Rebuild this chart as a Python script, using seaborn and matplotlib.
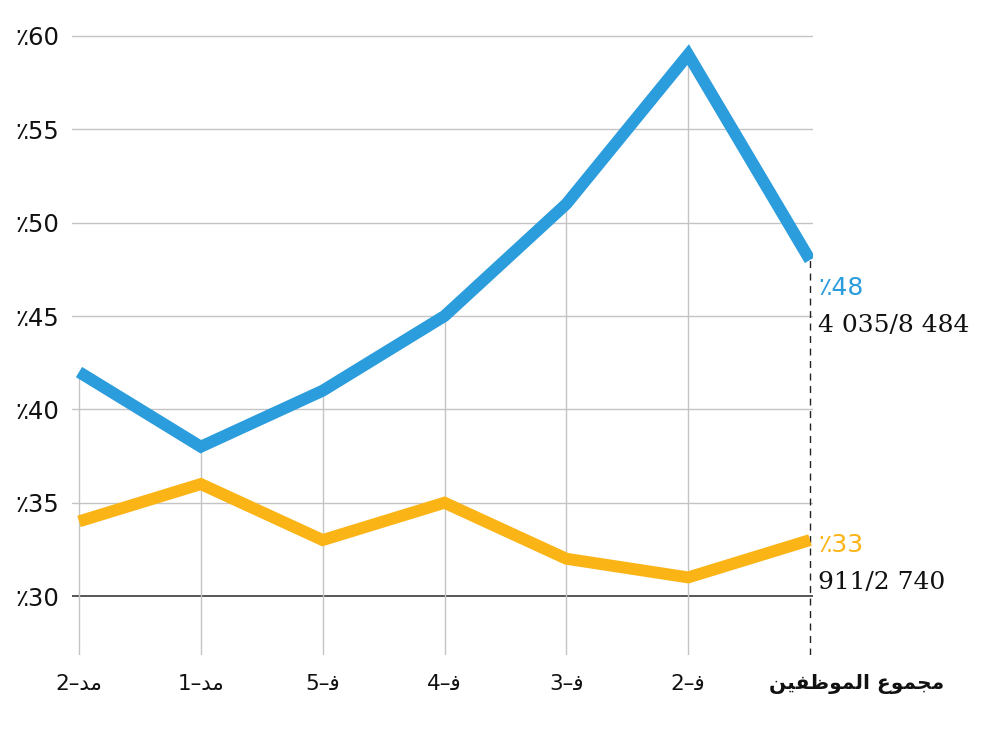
import matplotlib
matplotlib.use("Agg")
import matplotlib.pyplot as plt
import seaborn as sns
import pandas as pd

# ---- data ----
categories = ["2–ﺪﻣ", "1–ﺪﻣ", "5–ﻓ", "4–ﻓ", "3–ﻓ", "2–ﻓ", "ﻦﻴﻔﻇﻮﻤﻟﺍ ﻉﻮﻤﺠﻣ"]
blue_values = [0.42, 0.38, 0.41, 0.45, 0.51, 0.59, 0.48]
orange_values = [0.34, 0.36, 0.33, 0.35, 0.32, 0.31, 0.33]
y_ticks = [0.30, 0.35, 0.40, 0.45, 0.50, 0.55, 0.60]
y_tick_labels = ["٪30", "٪35", "٪40", "٪45", "٪50", "٪55", "٪60"]
blue_pct = "٪48"
blue_counts = "4 035/8 484"
orange_pct = "٪33"
orange_counts = "911/2 740"

BLUE = "#2b9cdc"
ORANGE = "#fbb416"

sns.set_theme(style="white")
plt.rcParams["font.family"] = ["DejaVu Sans"]

df = pd.DataFrame({
    "x": list(range(len(categories))) * 2,
    "value": blue_values + orange_values,
    "series": ["blue"] * len(categories) + ["orange"] * len(categories),
})

fig = plt.figure(figsize=(9.83, 7.29), dpi=100)
ax = fig.add_axes([72 / 983, (729 - 655) / 729, 741 / 983, 620 / 729])

ylow = 0.30 - 59 * 0.05 / 93.5
ax.set_ylim(ylow, 0.6005)
ax.set_xlim(-7 / 121.83, 6 + 3 / 121.83)

# horizontal gridlines
for yv in y_ticks:
    if abs(yv - 0.30) < 1e-9:
        ax.axhline(yv, color="#3a3a3a", lw=1.2, zorder=1)
    else:
        ax.axhline(yv, color="#c4c4c4", lw=1.0, zorder=1)

# vertical lines from bottom up to blue value
n = len(categories)
ax.vlines(list(range(n - 1)), ylow, blue_values[:-1], colors="#c4c4c4", lw=1.0, zorder=1)
ax.vlines([n - 1], ylow, [blue_values[-1]], colors="#222222", lw=1.0,
          linestyles=(0, (5, 4)), zorder=1)

sns.lineplot(data=df, x="x", y="value", hue="series",
             palette={"blue": BLUE, "orange": ORANGE}, lw=8.6,
             legend=False, ax=ax, zorder=3,
             solid_capstyle="butt", solid_joinstyle="miter")

for sp in ax.spines.values():
    sp.set_visible(False)

ax.set_xticks(range(n))
ax.set_xticklabels(categories[:-1] + [""], fontsize=15.5, color="#111111")
ax.set_yticks(y_ticks)
ax.set_yticklabels(y_tick_labels, fontsize=17.5, color="#111111")
ax.tick_params(axis="x", length=0, pad=14)
ax.tick_params(axis="y", length=0, pad=9)
ax.set_xlabel("")
ax.set_ylabel("")

last = n - 1
# last category label, shifted right as in the reference
ax.annotate(categories[-1], xy=(last, ylow), xytext=(47, -29),
            textcoords="offset pixels", ha="center", va="center",
            fontsize=14.5, fontweight="bold", color="#111111",
            annotation_clip=False)

# end annotations
ax.annotate(blue_pct, xy=(last, blue_values[-1]), xytext=(8, -28),
            textcoords="offset pixels", ha="left", va="center",
            fontsize=18, color=BLUE, family="DejaVu Sans")
ax.annotate(blue_counts, xy=(last, blue_values[-1]), xytext=(8, -66),
            textcoords="offset pixels", ha="left", va="center",
            fontsize=18, color="#111111", family="DejaVu Serif",
            annotation_clip=False)
ax.annotate(orange_pct, xy=(last, orange_values[-1]), xytext=(8, -5),
            textcoords="offset pixels", ha="left", va="center",
            fontsize=18, color=ORANGE, family="DejaVu Sans")
ax.annotate(orange_counts, xy=(last, orange_values[-1]), xytext=(8, -42),
            textcoords="offset pixels", ha="left", va="center",
            fontsize=18, color="#111111", family="DejaVu Serif",
            annotation_clip=False)

fig.savefig("out.png", dpi=100)
